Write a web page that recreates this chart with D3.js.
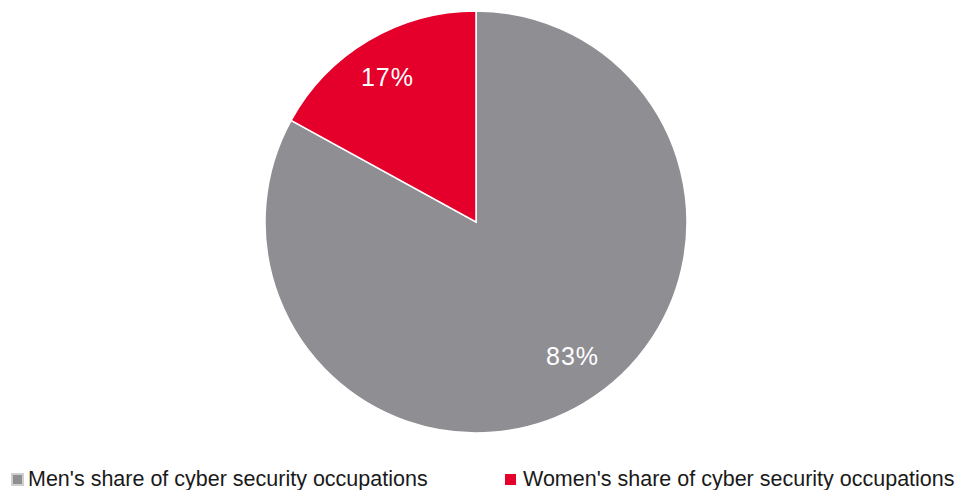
<!DOCTYPE html>
<html>
<head>
<meta charset="utf-8">
<script src="https://cdn.jsdelivr.net/npm/d3@7"></script>
<style>
  body { margin: 0; background: #fff; }
  text { font-family: "Liberation Sans", Arial, Helvetica, sans-serif; }
</style>
</head>
<body>
<svg width="960" height="490"></svg>
<script>
// data
var categories = ["Men's share of cyber security occupations", "Women's share of cyber security occupations"];
var shares = [83, 17];
var colors = ["#8f8e93", "#e4002b"];

var svg = d3.select("svg");
var cx = 476, cy = 222, radius = 211;

var pie = d3.pie().sort(null).value(function (d) { return d; });
var arcs = pie(shares);

var arc = d3.arc().innerRadius(0).outerRadius(radius);
var labelArc = d3.arc().innerRadius(168).outerRadius(168);
// excel-ish best fit tweak
var nudge = [[11, -10], [-3, 0]];

var g = svg.append("g").attr("transform", "translate(" + cx + "," + cy + ")");

g.selectAll("path").data(arcs).enter().append("path")
  .attr("d", arc)
  .attr("fill", function (d, i) { return colors[i]; })
  .attr("stroke", "#fff")
  .attr("stroke-width", 1.5);

g.selectAll("text").data(arcs).enter().append("text")
  .attr("transform", function (d, i) {
    var c = labelArc.centroid(d);
    return "translate(" + (c[0] + nudge[i][0]) + "," + (c[1] + nudge[i][1]) + ")";
  })
  .attr("text-anchor", "middle")
  .attr("dy", "0.35em")
  .attr("fill", "#fff")
  .attr("font-size", 25)
  .attr("letter-spacing", 1)
  .text(function (d) { return d.data + "%"; });

// legend
var legendX = [12, 505];
var legend = svg.selectAll("g.legend").data(categories).enter().append("g")
  .attr("class", "legend")
  .attr("transform", function (d, i) { return "translate(" + legendX[i] + ",474)"; });

legend.append("rect")
  .attr("width", 11).attr("height", 11)
  .attr("fill", function (d, i) { return colors[i]; })
  .attr("stroke", function (d, i) { return i === 0 ? "#cfcfcf" : "none"; })
  .attr("stroke-width", 2);

legend.append("text")
  .attr("x", function (d, i) { return i === 0 ? 16 : 18; })
  .attr("y", 12)
  .attr("font-size", 21.5)
  .attr("fill", "#1a1a1a")
  .text(function (d) { return d; });
</script>
</body>
</html>
